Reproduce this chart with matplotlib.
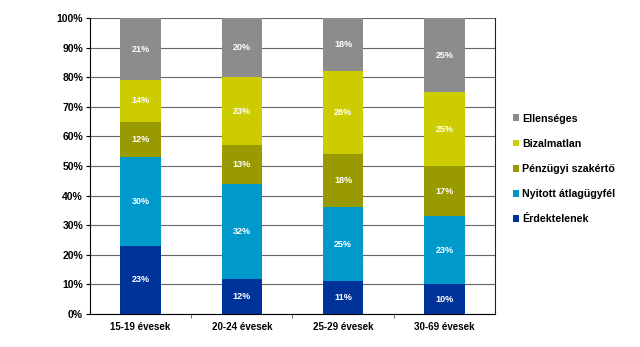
import matplotlib.pyplot as plt
import numpy as np

plt.rcParams['font.family'] = ['Liberation Sans', 'DejaVu Sans']

categories = ["15-19 évesek", "20-24 évesek", "25-29 évesek", "30-69 évesek"]
series_names = ["Érdektelenek", "Nyitott átlagügyfél", "Pénzügyi szakértő", "Bizalmatlan", "Ellenséges"]
erdektelenek = [23, 12, 11, 10]
nyitott = [30, 32, 25, 23]
penzugyi = [12, 13, 18, 17]
bizalmatlan = [14, 23, 28, 25]
ellenseges = [21, 20, 18, 25]
colors = ["#003399", "#0099CC", "#999900", "#CCCC00", "#8C8C8C"]

values = [erdektelenek, nyitott, penzugyi, bizalmatlan, ellenseges]

fig = plt.figure(figsize=(6.4, 3.47), dpi=100)
ax = fig.add_axes([0.1406, 0.095, 0.6328, 0.853])

x = np.arange(len(categories))
bottom = np.zeros(len(categories))
handles = []
for name, vals, col in zip(series_names, values, colors):
    vals = np.array(vals, dtype=float)
    b = ax.bar(x, vals, 0.4, bottom=bottom, color=col, label=name, zorder=3)
    handles.append(b)
    for xi, v, bt in zip(x, vals, bottom):
        ax.text(xi, bt + v / 2, f"{int(v)}%", ha="center", va="center",
                color="white", fontsize=6.5, fontweight="bold", zorder=4)
    bottom += vals

ax.set_xlim(-0.5, len(categories) - 0.5)
ax.set_ylim(0, 100)
ax.set_yticks(np.arange(0, 101, 10))
ax.set_yticklabels([f"{v}%" for v in range(0, 101, 10)], fontsize=7.5, fontweight="bold")
ax.set_xticks(x)
ax.set_xticklabels(categories, fontsize=7, fontweight="bold")
ax.tick_params(axis="x", length=0, pad=6)
ax.set_xticks(np.arange(0.5, len(categories) - 0.5, 1), minor=True)
ax.tick_params(axis="x", which="minor", length=3, color="#555555")
ax.tick_params(axis="y", length=3, pad=2)
ax.yaxis.grid(True, color="#666666", linewidth=0.8, zorder=0)
ax.spines["top"].set_visible(False)
ax.spines["right"].set_color("#222222")

leg = ax.legend(handles[::-1], series_names[::-1], loc="center left",
                bbox_to_anchor=(1.02, 0.49), frameon=False,
                handlelength=0.6, handleheight=0.6, handletextpad=0.3,
                labelspacing=1.42, prop={"weight": "bold", "size": 7.7})

fig.savefig("out.png", dpi=100)
